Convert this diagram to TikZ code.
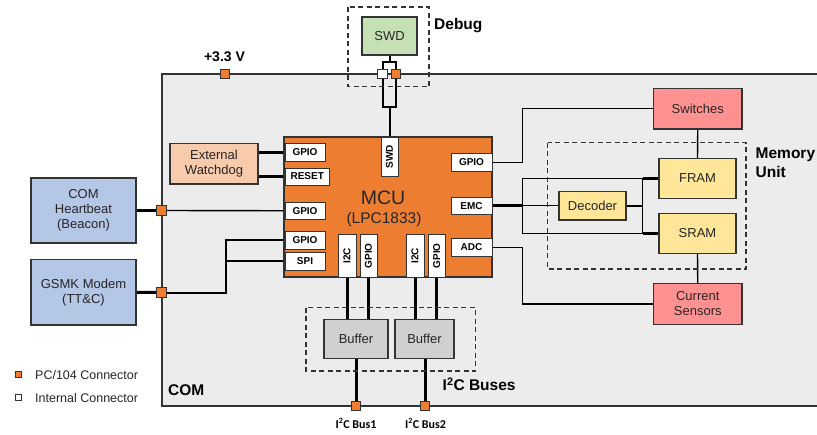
\documentclass[tikz,border=0pt]{standalone}
\usepackage{fontspec}
\usepackage{graphicx}
\setmainfont{Liberation Sans}
\newfontfamily\calib{Carlito}
\definecolor{bordc}{HTML}{333333}
\definecolor{txtc}{HTML}{262626}
\definecolor{orgc}{HTML}{ED7D31}
\definecolor{comc}{HTML}{ECECEC}
\definecolor{wdc}{HTML}{F8CBAD}
\definecolor{bluc}{HTML}{B4C7E7}
\definecolor{grnc}{HTML}{C5E0B4}
\definecolor{redc}{HTML}{FF9191}
\definecolor{yelc}{HTML}{FFE699}
\definecolor{bufc}{HTML}{D0D0D0}
\pgfdeclarelayer{bgcom}
\pgfdeclarelayer{lines}
\pgfsetlayers{bgcom,lines,main}
\begin{document}
\begin{tikzpicture}[x=1pt,y=-1pt,
  box/.style={draw=bordc, line width=1.3pt, inner sep=0pt, text=txtc, align=center,
    font=\fontsize{13}{15}\selectfont},
  port/.style={draw=bordc, fill=white, line width=1pt, inner sep=0pt, text=black,
    font=\bfseries\fontsize{10}{10}\selectfont},
  conn/.style={draw=bordc, fill=orgc, line width=0.8pt, minimum size=9.5pt, inner sep=0pt},
  iconn/.style={conn, fill=white},
  thinl/.style={line width=1.4pt, draw=black},
  medl/.style={line width=2pt, draw=black},
  thickl/.style={line width=3pt, draw=black},
  dashbox/.style={draw=bordc, line width=1.3pt, dash pattern=on 5pt off 3.5pt},
  lbl/.style={text=black, font=\bfseries\fontsize{15.5}{19.5}\selectfont, inner sep=0pt},
]
\useasboundingbox (0,0) rectangle (817,434);

% COM background
\begin{pgfonlayer}{bgcom}
\fill[comc] (162,74) rectangle (820,406);
\draw[bordc, line width=1.3pt] (820,74) -- (162,74) -- (162,406) -- (820,406);
\end{pgfonlayer}

% dashed groups
\draw[dashbox] (348,7) rectangle (429,86.5);
\draw[dashbox] (547.5,142.5) rectangle (746,269);
\draw[dashbox] (306,307.5) rectangle (475.5,371);

% main boxes
\node[box, fill=grnc, minimum width=55pt, minimum height=38pt] (swd) at (389.5,36) {SWD};
\node[box, fill=orgc, minimum width=208pt, minimum height=140pt] (mcu) at (388,207) {};
\node[text=txtc, font=\fontsize{19.5}{20}\selectfont, inner sep=0pt] (mcut) at (383,198) {MCU};
\node[text=txtc, font=\fontsize{15.5}{16}\selectfont, inner sep=0pt] (mcus) at (384,219.5) {(LPC1833)};
\node[box, fill=wdc, minimum width=88pt, minimum height=40.5pt] (wd) at (214,163.75) {External\\Watchdog};
\node[box, fill=bluc, minimum width=105pt, minimum height=65pt] (hb) at (83.5,210.5) {COM\\Heartbeat\\(Beacon)};
\node[box, fill=bluc, minimum width=105pt, minimum height=65.5pt] (gsm) at (83.5,292.25) {GSMK Modem\\(TT\&C)};
\node[box, fill=redc, minimum width=88.5pt, minimum height=40.5pt] (sw) at (697.75,108.75) {Switches};
\node[box, fill=redc, minimum width=88.5pt, minimum height=41pt] (cs) at (697.75,304) {Current\\Sensors};
\node[box, fill=yelc, minimum width=77pt, minimum height=40pt] (fram) at (697.5,178.5) {FRAM};
\node[box, fill=yelc, minimum width=77pt, minimum height=40pt] (sram) at (697.5,233.5) {SRAM};
\node[box, fill=yelc, minimum width=67pt, minimum height=28.5pt] (dec) at (592.5,205.75) {Decoder};
\node[box, fill=bufc, minimum width=64pt, minimum height=39pt] (buf1) at (356,339) {Buffer};
\node[box, fill=bufc, minimum width=59pt, minimum height=39pt] (buf2) at (424.5,339) {Buffer};

% MCU ports
\node[port, minimum width=40pt, minimum height=18pt] (pg1) at (305,152.5) {GPIO};
\node[port, minimum width=44.5pt, minimum height=17pt] (prst) at (307.25,176.5) {RESET};
\node[port, minimum width=40pt, minimum height=17.5pt] (pg2) at (305,210.75) {GPIO};
\node[port, minimum width=40pt, minimum height=18pt] (pg3) at (305,240) {GPIO};
\node[port, minimum width=40pt, minimum height=17.5pt] (pspi) at (305,261.25) {SPI};
\node[port, minimum width=17pt, minimum height=39.5pt] (pswd) at (389.5,156.75) {\rotatebox{90}{SWD}};
\node[port, minimum width=41pt, minimum height=17.5pt] (pgr) at (471.5,162.25) {GPIO};
\node[port, minimum width=41pt, minimum height=17.5pt] (pemc) at (471.5,205.75) {EMC};
\node[port, minimum width=41pt, minimum height=17.5pt] (padc) at (471.5,247.25) {ADC};
\node[port, minimum width=18pt, minimum height=42.5pt] (pi1) at (347,255.75) {\rotatebox{90}{I2C}};
\node[port, minimum width=17pt, minimum height=42.5pt] (pg4) at (368.5,255.75) {\rotatebox{90}{GPIO}};
\node[port, minimum width=18pt, minimum height=42.5pt] (pi2) at (415,255.75) {\rotatebox{90}{I2C}};
\node[port, minimum width=17.5pt, minimum height=42.5pt] (pg5) at (436.75,255.75) {\rotatebox{90}{GPIO}};

% connectors
\node[conn] (c33) at (225,74) {};
\node[iconn] (cdw) at (382.5,74) {};
\node[conn] (cdo) at (396,74) {};
\node[conn] (chb) at (161.5,210.5) {};
\node[conn] (cgsm) at (161.5,292.5) {};
\node[conn] (cb1) at (356,406) {};
\node[conn] (cb2) at (425,406) {};
\node[conn, minimum size=6pt, line width=0.6pt] (lg1) at (17.8,374) {};
\node[iconn, minimum size=6pt, line width=0.6pt] (lg2) at (17.8,397) {};

% helper coordinates
\coordinate (jg) at (225.7,292.5);
\coordinate (jr) at (522.7,162.25);
\coordinate (fA) at (522.7,178.5);
\coordinate (sA) at (522.7,233.5);
\coordinate (fB) at (642.5,178.5);
\coordinate (sB) at (642.5,233.5);
\coordinate (swt) at (389.5,62);
\coordinate (swb) at (389.5,107);

\begin{pgfonlayer}{lines}
% SWD debug
\draw[medl] (swd.south) -- (swt);
\draw[medl] (cdw.center |- swt) rectangle (cdo.center |- swb);
\draw[medl] (swb) -- (pswd.north);
% watchdog
\draw[thickl] (wd.east |- pg1.west) -- (pg1.west);
\draw[thickl] (wd.east |- prst.west) -- (prst.west);
% heartbeat
\draw[thickl] (hb.east) -- (chb.west);
\draw[thinl] (chb.east) -- (pg2.west);
% GSMK
\draw[thickl] (gsm.east) -- (cgsm.west);
\draw[medl] (cgsm.east) -- (jg) |- (pg3.west);
\draw[medl] (jg |- pspi.west) -- (pspi.west);
% right side
\draw[thinl] (pgr.east) -- (jr) |- (sw.west);
\draw[thickl] (pemc.east) -- (fA |- pemc.east);
\draw[thinl] (fA |- pemc.east) -- (dec.west);
\draw[thinl] (fB) -- (fA) -- (sA) -- (sB) -- cycle;
\draw[medl] (dec.east) -- (fB |- dec.east);
\draw[thickl] (fB) -- (fram.west);
\draw[thickl] (sB) -- (sram.west);
\draw[thinl] (padc.east) -- (fA |- padc.east) |- (cs.west);
\draw[thinl] (sw.south) -- (fram.north);
\draw[thinl] (sram.south) -- (cs.north);
% I2C
\draw[thickl] (pi1.south) -- (pi1.south |- buf1.north);
\draw[thickl] (pg4.south) -- (pg4.south |- buf1.north);
\draw[thickl] (pi2.south) -- (pi2.south |- buf2.north);
\draw[thickl] (pg5.south) -- (pg5.south |- buf2.north);
\draw[thickl] (buf1.south) -- (cb1.north);
\draw[thickl] (cb2.north |- buf2.south) -- (cb2.north);
\end{pgfonlayer}

% labels
\node[lbl] (l33) at (224.5,57) {\fontsize{14}{14}\selectfont +3.3 V};
\node[lbl, anchor=west] (ldbg) at (434,26) {Debug};
\node[lbl, anchor=west, align=left] (lmem) at (755.5,162.5) {Memory\\Unit};
\node[lbl, anchor=west] (lbus) at (442.5,384) {I\textsuperscript{2}C Buses};
\node[lbl, anchor=west] (lcom) at (168,390) {COM};
\node[text=black, inner sep=0pt, font=\calib\bfseries\fontsize{12}{12}\selectfont] (b1) at (356,423.5) {I\textsuperscript{2}C Bus1};
\node[text=black, inner sep=0pt, font=\calib\bfseries\fontsize{12}{12}\selectfont] (b2) at (425.5,423.5) {I\textsuperscript{2}C Bus2};
\node[anchor=west, text=txtc, inner sep=0pt, font=\fontsize{12.5}{13}\selectfont] (lt1) at (35,375) {PC/104 Connector};
\node[anchor=west, text=txtc, inner sep=0pt, font=\fontsize{12.5}{13}\selectfont] (lt2) at (35,398.5) {Internal Connector};
\end{tikzpicture}
\end{document}
